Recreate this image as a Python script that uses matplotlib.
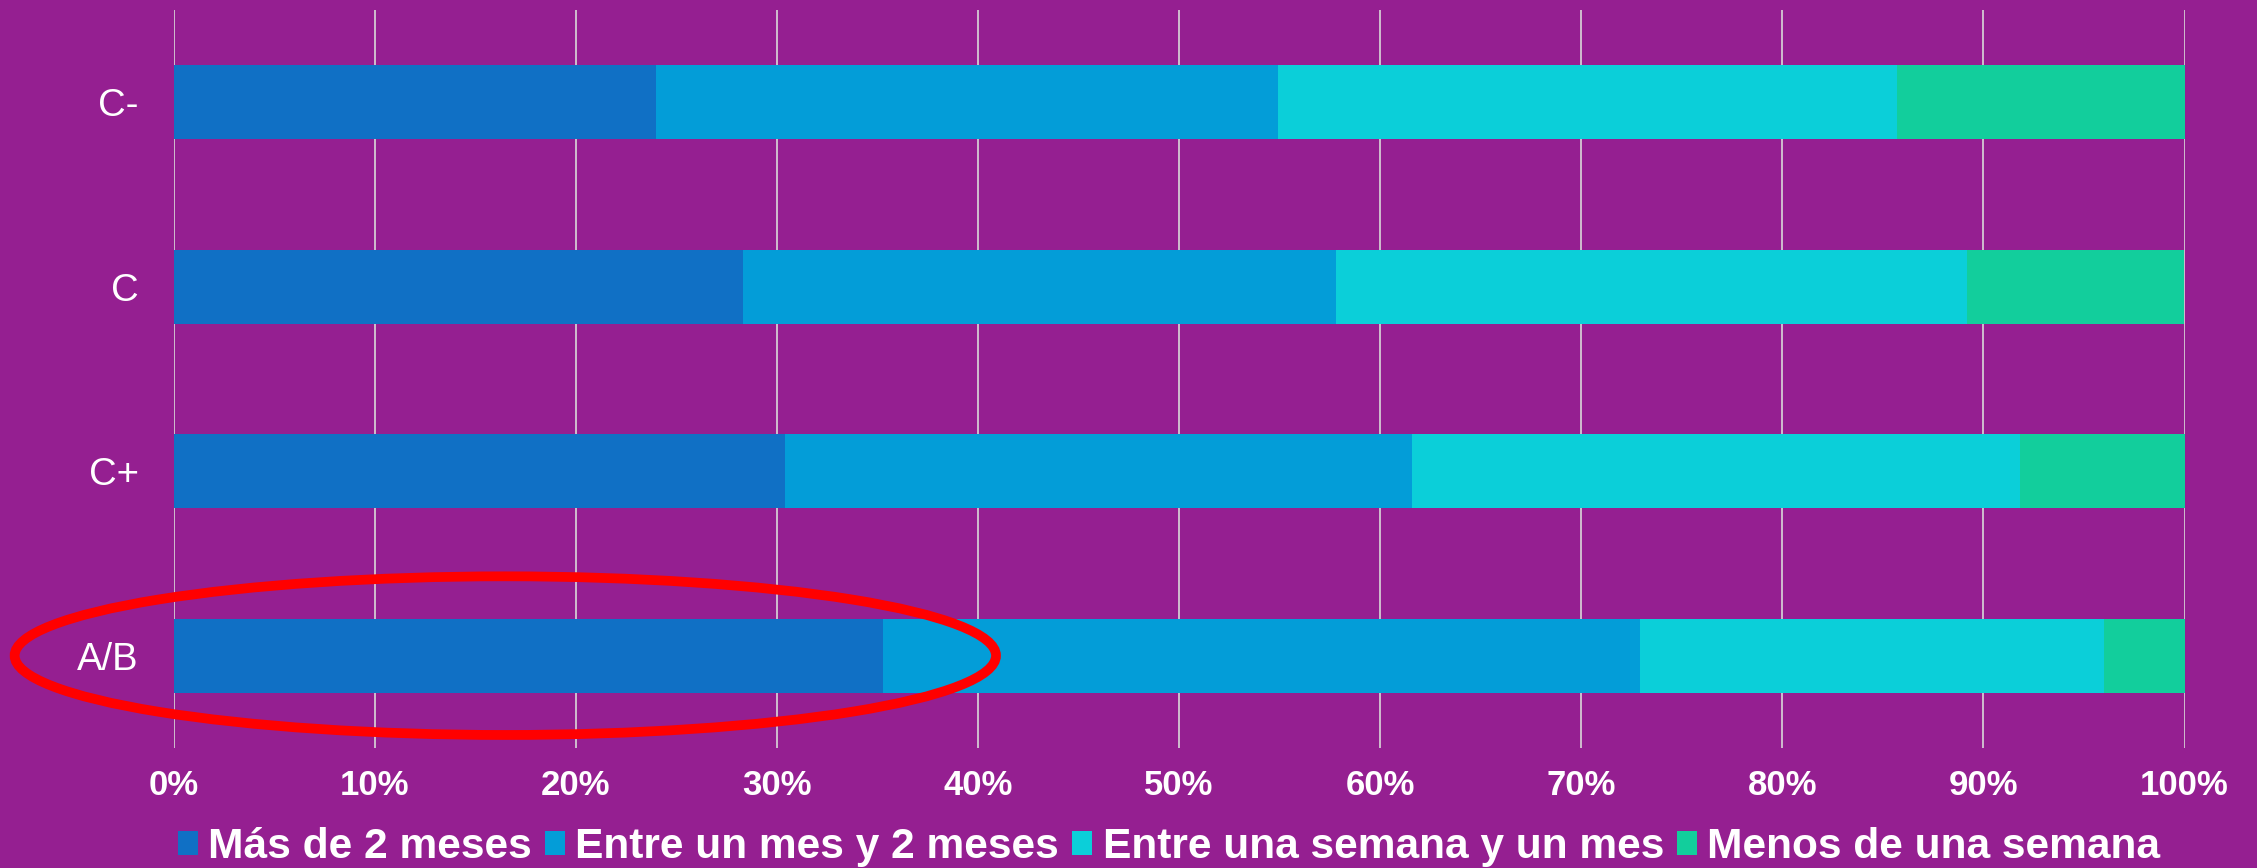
import matplotlib
matplotlib.use("Agg")
import matplotlib.pyplot as plt
from matplotlib.patches import Ellipse
import numpy as np

plt.rcParams['font.family'] = ['Liberation Sans', 'DejaVu Sans']

# data (percent), bottom to top
groups = ["A/B", "C+", "C", "C-"]
series = ["Más de 2 meses", "Entre un mes y 2 meses",
          "Entre una semana y un mes", "Menos de una semana"]
mas_2_meses = [35.3, 30.4, 28.3, 24.0]
mes_2_meses = [37.6, 31.2, 29.5, 30.9]
semana_mes = [23.1, 30.2, 31.4, 30.8]
menos_semana = [4.0, 8.2, 10.8, 14.3]
xticks = [0, 10, 20, 30, 40, 50, 60, 70, 80, 90, 100]

colors = ["#1070C5", "#039DD8", "#0BCFD9", "#12CE9C"]
bg = "#951F91"

fig = plt.figure(figsize=(22.57, 8.68), dpi=100, facecolor=bg)
ax = fig.add_axes([173.5 / 2257, 0.1384, (2184.5 - 173.5) / 2257, 0.9885 - 0.1384])
ax.set_facecolor(bg)

y = np.arange(len(groups))
left = np.zeros(len(groups))
for vals, name, c in zip([mas_2_meses, mes_2_meses, semana_mes, menos_semana], series, colors):
    ax.barh(y, vals, left=left, height=0.4, color=c, label=name, zorder=3)
    left += np.array(vals)

ax.set_xlim(0, 100)
ax.set_ylim(-0.5, len(groups) - 0.5)
ax.set_xticks(xticks)
ax.set_xticklabels([f"{t}%" for t in xticks], fontsize=25, fontweight='bold', color='white')
ax.set_yticks(y)
ax.set_yticklabels(groups, fontsize=27.5, color='white')
ax.tick_params(axis='x', length=0, pad=15)
ax.tick_params(axis='y', length=0, pad=25)
ax.grid(axis='x', color='#D9D9D9', linewidth=1.2, zorder=0)
ax.set_axisbelow(True)
for s in ax.spines.values():
    s.set_visible(False)

# red highlight around A/B
ell = Ellipse((16.5, 0.0), 48.8, 0.86, fill=False, edgecolor='#FF0000',
              linewidth=7, clip_on=False, zorder=5)
ax.add_patch(ell)

fig.legend(loc='center', bbox_to_anchor=(1169 / 2257, 0.024), ncol=4, frameon=False,
           prop={'size': 30.6, 'weight': 'bold'}, labelcolor='white',
           handlelength=0.48, handleheight=0.47, handletextpad=0.24, columnspacing=0.3)

fig.savefig("out.png", dpi=100, facecolor=bg)
